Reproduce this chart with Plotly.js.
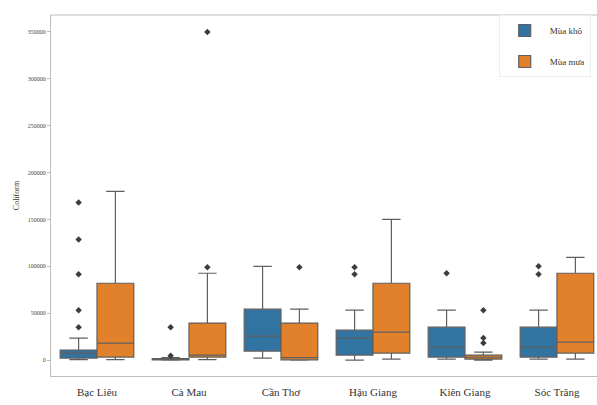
<!DOCTYPE html>
<html>
<head>
<meta charset="utf-8">
<script src="https://cdn.plot.ly/plotly-3.0.1.min.js"></script>
<style>
  html, body { margin: 0; padding: 0; background: #ffffff; overflow: hidden; }
  #chart { width: 597px; height: 405px; }
</style>
</head>
<body>
<div id="chart"></div>
<script>
// Coliform counts by province, dry season vs rainy season (box statistics)
const categories = ['Bạc Liêu', 'Cà Mau', 'Cần Thơ', 'Hậu Giang', 'Kiên Giang', 'Sóc Trăng'];
const seasonNames = ['Mùa khô', 'Mùa mưa'];

// Dry season (Mùa khô)
const dryLower  = [500,   0,    2100,   0,     1000,  1000];
const dryQ1     = [2100,  300,  9600,   5300,  3200,  3200];
const dryMedian = [7400,  700,  25500,  23400, 13800, 13800];
const dryQ3     = [10600, 1500, 54300,  31900, 35100, 35100];
const dryUpper  = [23400, 2500, 100000, 53200, 53200, 53200];
const dryOutliers = [
  [35100, 53200, 91500, 128700, 168000],
  [4500, 35100],
  [],
  [91500, 99000],
  [92600],
  [91500, 100000]
];

// Rainy season (Mùa mưa)
const wetLower  = [500,    500,    0,     1000,   0,     1000];
const wetQ1     = [3200,   3200,   300,   7400,   1000,  7400];
const wetMedian = [18100,  5300,   2500,  29800,  3000,  19100];
const wetQ3     = [81900,  39400,  39400, 81900,  5300,  92600];
const wetUpper  = [180000, 92600,  54300, 150000, 8500,  109600];
const wetOutliers = [
  [],
  [99000, 350000],
  [99000],
  [],
  [18100, 23400, 53200],
  []
];

const yTicks = [0, 50000, 100000, 150000, 200000, 250000, 300000, 350000];

const colors = ['#3274a1', '#e1812c'];
const edgeColor = '#5f5f5f';
const serif = 'Liberation Serif, DejaVu Serif, serif';
const boxWidth = 0.4;
const offsets = [-boxWidth / 2, boxWidth / 2];

const seasons = [
  {lower: dryLower, q1: dryQ1, median: dryMedian, q3: dryQ3, upper: dryUpper, outliers: dryOutliers},
  {lower: wetLower, q1: wetQ1, median: wetMedian, q3: wetQ3, upper: wetUpper, outliers: wetOutliers}
];

const traces = [];
seasons.forEach((s, k) => {
  const xs = categories.map((_, i) => i + offsets[k]);
  traces.push({
    type: 'box',
    name: seasonNames[k],
    legendgroup: 'season' + k,
    x: xs,
    lowerfence: s.lower,
    q1: s.q1,
    median: s.median,
    q3: s.q3,
    upperfence: s.upper,
    width: boxWidth,
    whiskerwidth: 0.5,
    fillcolor: colors[k],
    line: {color: edgeColor, width: 1.2},
    marker: {color: colors[k]},
    hoverinfo: 'skip'
  });
  // outlier points
  const ox = [], oy = [];
  s.outliers.forEach((vals, i) => vals.forEach(v => { ox.push(i + offsets[k]); oy.push(v); }));
  traces.push({
    type: 'scatter',
    mode: 'markers',
    legendgroup: 'season' + k,
    x: ox,
    y: oy,
    showlegend: false,
    marker: {symbol: 'diamond', size: 5, color: '#3d3d3d'},
    hoverinfo: 'skip'
  });
});

const layout = {
  width: 597,
  height: 405,
  margin: {l: 51, r: 0, t: 15, b: 29},
  paper_bgcolor: '#ffffff',
  plot_bgcolor: '#ffffff',
  font: {family: serif, color: '#222222'},
  showlegend: true,
  legend: {
    x: 0.82, y: 1.0, xanchor: 'left', yanchor: 'top',
    bgcolor: '#ffffff', bordercolor: '#eeeeee', borderwidth: 1,
    font: {family: serif, size: 9, color: '#333333'},
    tracegroupgap: 12,
    itemwidth: 40
  },
  // top frame line
  shapes: [{
    type: 'line', xref: 'paper', yref: 'paper',
    x0: 0, x1: 1, y0: 1, y1: 1,
    line: {color: '#bdbdbd', width: 1}
  }],
  xaxis: {
    range: [-0.5, 5.435],
    tickmode: 'array',
    tickvals: categories.map((_, i) => i),
    ticktext: categories,
    tickfont: {family: serif, size: 11, color: '#333333'},
    showgrid: false,
    zeroline: false,
    showline: true,
    mirror: false,
    linecolor: '#bdbdbd',
    linewidth: 1,
    ticks: '',
    ticklabelstandoff: 6
  },
  yaxis: {
    range: [-17000, 368000],
    tickmode: 'array',
    tickvals: yTicks,
    ticktext: yTicks.map(String),
    tickfont: {family: serif, size: 6, color: '#444444'},
    title: {text: 'Coliform', font: {family: serif, size: 8, color: '#333333'}, standoff: 6},
    showgrid: false,
    zeroline: false,
    showline: true,
    mirror: false,
    linecolor: '#bdbdbd',
    linewidth: 1,
    ticks: 'outside',
    ticklen: 3,
    tickcolor: '#bdbdbd'
  }
};

Plotly.newPlot('chart', traces, layout, {displayModeBar: false, staticPlot: true});
</script>
</body>
</html>
